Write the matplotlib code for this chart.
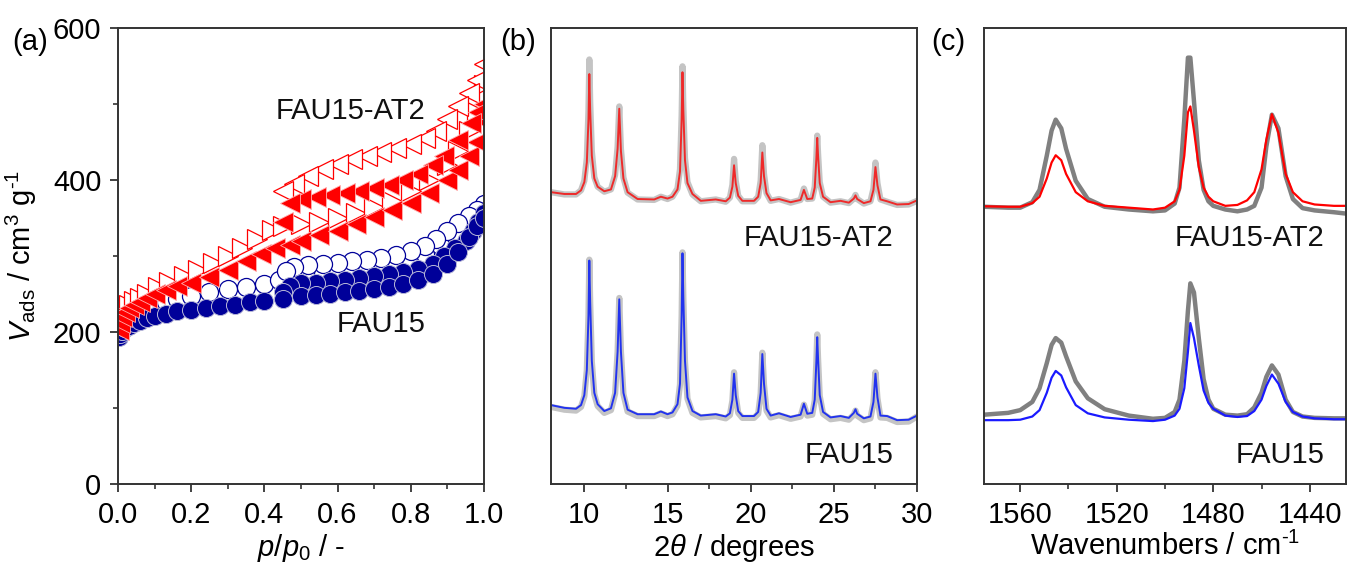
import numpy as np
import matplotlib
matplotlib.use('Agg')
import matplotlib.pyplot as plt
from matplotlib.ticker import MultipleLocator, FixedLocator

plt.rcParams['font.family'] = ['Liberation Sans', 'DejaVu Sans']
plt.rcParams['mathtext.fontset'] = 'custom'
plt.rcParams['mathtext.rm'] = 'Liberation Sans'
plt.rcParams['mathtext.it'] = 'Liberation Sans:italic'

# ---- (a) N2 isotherms, p/p0 and V_ads (cm3/g)
fau_fill_ads_x = [0.002, 0.005, 0.01, 0.02, 0.03, 0.045, 0.06, 0.08, 0.1, 0.13, 0.16, 0.2, 0.24, 0.28, 0.32, 0.36,
                  0.4, 0.45, 0.5, 0.54, 0.58, 0.62, 0.66, 0.7, 0.74, 0.78, 0.82, 0.86, 0.9, 0.93, 0.96, 0.98, 1.0]
fau_fill_ads_y = [193, 197, 201, 205, 208, 212, 215, 218, 221, 224, 227, 229, 231, 234, 236, 239,
                  241, 244, 248, 249, 250, 252, 254, 256, 259, 263, 268, 276, 290, 305, 325, 340, 350]
fau_fill_des_x = [1.0, 0.985, 0.97, 0.95, 0.92, 0.89, 0.86, 0.82, 0.78, 0.74, 0.7, 0.66, 0.62, 0.58, 0.54, 0.5, 0.47, 0.45]
fau_fill_des_y = [357, 345, 333, 320, 310, 300, 290, 283, 279, 276, 274, 271, 269, 267, 265, 264, 260, 252]
fau_open_ads_x = [0.002, 0.008, 0.015, 0.025, 0.04, 0.06, 0.08, 0.1, 0.13, 0.16, 0.2, 0.25, 0.3, 0.35, 0.4, 0.44,
                  0.48, 0.52, 0.56, 0.6, 0.64, 0.68, 0.72, 0.76, 0.8, 0.84, 0.88, 0.92, 0.95, 0.98, 1.0]
fau_open_ads_y = [197, 206, 213, 219, 225, 230, 234, 237, 240, 244, 247, 252, 256, 259, 263, 268,
                  272, 274, 276, 278, 280, 282, 285, 289, 295, 303, 315, 330, 343, 356, 364]
fau_open_des_x = [1.0, 0.98, 0.96, 0.93, 0.9, 0.87, 0.84, 0.8, 0.76, 0.72, 0.68, 0.64, 0.6, 0.56, 0.52, 0.48, 0.46]
fau_open_des_y = [368, 360, 352, 343, 333, 322, 313, 306, 301, 297, 295, 293, 291, 290, 288, 285, 280]

at2_fill_ads_x = [0.002, 0.006, 0.012, 0.02, 0.03, 0.045, 0.06, 0.08, 0.1, 0.13, 0.16, 0.2, 0.25, 0.3, 0.35, 0.39,
                  0.43, 0.47, 0.5, 0.55, 0.6, 0.65, 0.7, 0.75, 0.8, 0.85, 0.9, 0.93, 0.96, 0.98, 1.0]
at2_fill_ads_y = [203, 212, 220, 226, 231, 236, 240, 245, 250, 255, 260, 265, 272, 282, 293, 303,
                  310, 315, 320, 327, 333, 342, 351, 360, 370, 383, 400, 413, 432, 450, 478]
at2_fill_des_x = [1.0, 0.985, 0.965, 0.93, 0.89, 0.86, 0.82, 0.78, 0.74, 0.7, 0.66, 0.62, 0.58, 0.54, 0.5, 0.47, 0.45]
at2_fill_des_y = [500, 490, 475, 453, 432, 420, 408, 400, 393, 389, 386, 383, 380, 378, 375, 370, 345]
at2_open_ads_x = [0.002, 0.006, 0.012, 0.02, 0.03, 0.045, 0.06, 0.08, 0.11, 0.14, 0.18, 0.22, 0.26, 0.3, 0.34, 0.38,
                  0.42, 0.45, 0.5, 0.55, 0.6, 0.65, 0.7, 0.75, 0.8, 0.85, 0.9, 0.93, 0.96, 0.98, 1.0]
at2_open_ads_y = [208, 217, 225, 231, 236, 241, 245, 250, 259, 266, 274, 282, 291, 300, 311, 322,
                  334, 340, 342, 345, 350, 357, 364, 373, 385, 400, 420, 438, 465, 490, 525]
at2_open_des_x = [1.0, 0.98, 0.96, 0.93, 0.9, 0.87, 0.84, 0.8, 0.76, 0.72, 0.68, 0.64, 0.6, 0.56, 0.52, 0.48, 0.45]
at2_open_des_y = [553, 532, 515, 497, 480, 465, 455, 447, 442, 437, 432, 427, 421, 414, 405, 395, 385]

# ---- (b) XRD, 2theta and intensity (a.u., offset)
xrd_2theta = [8.0, 8.8, 9.5, 9.8, 10.0, 10.15, 10.25, 10.3, 10.35, 10.45, 10.6, 10.8, 11.2, 11.6, 11.85, 12.0, 12.1,
              12.2, 12.35, 12.6, 13.2, 14.2, 14.6, 15.0, 15.3, 15.6, 15.75, 15.85, 15.9, 15.95, 16.05, 16.2,
              16.5, 17.0, 17.9, 18.5, 18.75, 18.9, 19.0, 19.1, 19.25, 19.5, 20.2, 20.45, 20.6, 20.7, 20.8,
              20.95, 21.2, 21.7, 22.4, 23.0, 23.2, 23.4, 23.7, 23.85, 23.95, 24.0, 24.05, 24.15, 24.35, 24.8,
              25.4, 25.9, 26.2, 26.3, 26.4, 26.8, 27.2, 27.38, 27.5, 27.62, 27.8, 28.2, 28.8, 29.5, 30.0]
xrd_at2 = [64.0, 63.6, 63.6, 64.4, 66.2, 70.5, 80.0, 89.9, 82.0, 72.0, 67.0, 65.2, 64.2, 64.6, 67.5, 73.5, 82.3,
           73.0, 67.0, 64.0, 62.5, 62.4, 63.0, 62.6, 63.0, 64.6, 68.5, 80.0, 90.3, 82.0, 71.0, 66.0,
           63.6, 62.1, 62.4, 62.0, 62.8, 65.2, 69.9, 66.0, 63.2, 62.1, 62.1, 63.0, 66.0, 72.7, 67.5,
           63.8, 62.2, 62.5, 61.8, 62.3, 64.5, 62.5, 62.6, 65.0, 71.5, 75.9, 72.0, 66.0, 63.0, 61.8,
           62.1, 61.7, 62.6, 63.3, 62.5, 61.6, 62.0, 64.5, 69.5, 65.5, 62.4, 62.0, 61.3, 61.4, 62.2]
xrd_at2_ref = [64.0, 63.5, 63.5, 64.4, 66.5, 71.5, 82.0, 93.1, 84.0, 73.0, 67.3, 65.2, 64.1, 64.6, 67.8, 74.0, 82.8,
               73.5, 67.2, 63.9, 62.4, 62.3, 63.0, 62.5, 63.0, 64.8, 69.0, 81.0, 91.6, 83.0, 71.5, 66.2,
               63.5, 62.0, 62.4, 61.9, 62.8, 65.6, 71.3, 66.5, 63.2, 62.0, 62.0, 63.0, 66.5, 74.3, 68.0,
               63.8, 62.1, 62.5, 61.7, 62.3, 64.8, 62.5, 62.6, 65.2, 72.0, 76.4, 72.5, 66.2, 63.0, 61.7,
               62.0, 61.6, 62.6, 63.4, 62.5, 61.5, 62.0, 64.8, 70.5, 66.0, 62.4, 61.9, 61.2, 61.3, 62.1]
xrd_fau = [17.3, 16.7, 16.5, 17.3, 19.5, 25.0, 37.0, 49.0, 40.0, 27.0, 20.0, 17.5, 16.0, 16.6, 20.0, 29.0, 40.5,
           29.0, 20.0, 16.3, 15.3, 15.3, 15.9, 15.3, 15.7, 17.5, 22.0, 37.0, 50.6, 41.0, 27.0, 19.0,
           16.0, 15.0, 15.3, 14.8, 15.5, 18.5, 24.2, 19.5, 16.0, 14.9, 14.9, 15.8, 20.0, 28.5, 22.0,
           16.5, 15.0, 15.5, 14.7, 15.2, 17.6, 15.4, 15.6, 18.5, 27.0, 32.2, 27.5, 19.5, 15.8, 14.6,
           14.9, 14.5, 15.6, 16.4, 15.4, 14.4, 14.8, 18.0, 24.2, 19.0, 15.0, 14.9, 14.0, 14.1, 15.0]
xrd_fau_ref = [16.9, 16.3, 16.1, 16.9, 19.2, 25.0, 37.0, 49.2, 40.0, 26.8, 19.7, 17.1, 15.6, 16.2, 19.8, 29.0, 40.8,
               29.0, 19.7, 15.9, 14.9, 14.9, 15.5, 14.9, 15.3, 17.2, 21.8, 37.0, 50.8, 41.0, 26.8, 18.7,
               15.6, 14.6, 14.9, 14.4, 15.1, 18.3, 24.5, 19.3, 15.6, 14.5, 14.5, 15.4, 19.8, 28.8, 21.8,
               16.1, 14.6, 15.1, 14.3, 14.8, 17.4, 15.0, 15.2, 18.3, 27.0, 32.8, 27.5, 19.3, 15.4, 14.2,
               14.5, 14.1, 15.2, 16.1, 15.0, 14.0, 14.4, 17.8, 24.5, 18.8, 14.6, 14.5, 13.6, 13.7, 14.8]

# ---- (c) IR of adsorbed pyridine, wavenumber and absorbance (a.u., offset)
ir_wn = [1575, 1565, 1560, 1555, 1552, 1549, 1547, 1545.3, 1543, 1541, 1537, 1532, 1525, 1515, 1505, 1500, 1496,
         1494, 1492, 1490.5, 1489.5, 1488, 1486, 1484, 1482, 1480, 1475, 1470, 1466, 1463, 1460, 1458, 1455.7,
         1453, 1450, 1447, 1443, 1438, 1430, 1425]
ir_at2 = [60.9, 60.8, 60.8, 61.6, 63.0, 67.0, 70.5, 72.1, 71.0, 68.0, 64.0, 62.0, 61.0, 60.6, 60.2, 60.6, 62.0,
          64.5, 72.0, 81.5, 82.8, 77.5, 69.5, 65.0, 63.0, 62.0, 61.0, 61.2, 62.2, 64.0, 69.0, 75.5, 81.1,
          77.0, 68.0, 64.0, 62.0, 61.3, 61.0, 61.0]
ir_at2_ref = [60.8, 60.6, 60.6, 61.8, 64.5, 72.0, 77.5, 79.9, 78.0, 73.5, 66.5, 62.5, 60.8, 60.2, 59.8, 60.0, 61.5,
              65.0, 80.0, 93.5, 93.5, 84.0, 71.0, 64.5, 62.0, 61.0, 60.2, 59.8, 60.2, 61.0, 65.0, 74.0, 81.0,
              78.0, 67.5, 62.5, 60.5, 60.0, 59.6, 59.3]
ir_fau = [14.0, 14.0, 14.1, 14.8, 16.2, 20.0, 23.3, 24.8, 23.8, 21.2, 17.3, 15.5, 14.6, 14.1, 13.8, 14.1, 15.0,
          16.5, 21.0, 29.0, 35.3, 32.0, 26.0, 20.5, 17.8, 16.5, 15.0, 14.7, 14.9, 16.0, 18.5, 21.5, 24.0,
          22.0, 18.0, 15.8, 14.8, 14.4, 14.2, 14.2]
ir_fau_ref = [15.2, 15.6, 16.2, 18.0, 21.0, 26.5, 30.5, 32.0, 31.0, 28.0, 22.5, 18.8, 16.4, 15.0, 14.3, 14.5, 15.8,
              18.5, 27.0, 38.0, 44.0, 42.0, 32.0, 23.0, 18.5, 16.5, 15.2, 15.0, 15.3, 16.8, 20.0, 23.5, 26.0,
              24.0, 18.5, 15.8, 14.8, 14.5, 14.4, 14.4]

navy = '#000099'
red = '#ff0000'
spine_col = '#333333'
fs = 21

fig = plt.figure(figsize=(13.48, 5.74), dpi=100)
ax_a = fig.add_axes([0.0875, 0.1568, 0.2715, 0.7944])
ax_b = fig.add_axes([0.4088, 0.1568, 0.2715, 0.7944])
ax_c = fig.add_axes([0.7300, 0.1568, 0.2685, 0.7944])

for ax in (ax_a, ax_b, ax_c):
    for s in ax.spines.values():
        s.set_color(spine_col)
        s.set_linewidth(1.4)
    ax.tick_params(which='major', direction='out', length=6, width=1.3, color=spine_col,
                   labelsize=fs, pad=6)
    ax.tick_params(which='minor', direction='out', length=3.5, width=1.2, color=spine_col)

# (a)
ms_c = 13
ms_t = 14
ax_a.plot(fau_open_ads_x, fau_open_ads_y, 'o', ms=ms_c, mfc='white', mec=navy, mew=0.9, ls='none')
ax_a.plot(fau_open_des_x, fau_open_des_y, 'o', ms=ms_c, mfc='white', mec=navy, mew=0.9, ls='none')
ax_a.plot(fau_fill_des_x, fau_fill_des_y, 'o', ms=ms_c, mfc=navy, mec='#b8b8d8', mew=0.7, ls='none')
ax_a.plot(fau_fill_ads_x, fau_fill_ads_y, 'o', ms=ms_c, mfc=navy, mec='#b8b8d8', mew=0.7, ls='none')
ax_a.plot(at2_open_ads_x, at2_open_ads_y, '>', ms=ms_t, mfc='white', mec=red, mew=0.9, ls='none')
ax_a.plot(at2_open_des_x, at2_open_des_y, '<', ms=ms_t, mfc='white', mec=red, mew=0.9, ls='none')
ax_a.plot(at2_fill_ads_x, at2_fill_ads_y, '<', ms=ms_t, mfc=red, mec='#ffb0b0', mew=0.6, ls='none')
ax_a.plot(at2_fill_des_x, at2_fill_des_y, '<', ms=ms_t, mfc=red, mec='#ffb0b0', mew=0.6, ls='none')
ax_a.set_xlim(0, 1.0)
ax_a.set_ylim(0, 600)
ax_a.xaxis.set_major_locator(MultipleLocator(0.2))
ax_a.xaxis.set_minor_locator(MultipleLocator(0.1))
ax_a.yaxis.set_major_locator(MultipleLocator(200))
ax_a.yaxis.set_minor_locator(MultipleLocator(100))
ax_a.xaxis.set_major_formatter(matplotlib.ticker.FormatStrFormatter('%.1f'))
ax_a.set_xlabel(r'$\mathit{p}/\mathit{p}_0$ / -', fontsize=fs)
ax_a.set_ylabel(r'$\mathit{V}_{\mathrm{ads}}$ / cm$^3$ g$^{\text{-1}}$', fontsize=fs)
ax_a.xaxis.set_label_coords(0.5, -0.105)
ax_a.yaxis.set_label_coords(-0.215, 0.5)
ax_a.text(0.84, 491, 'FAU15-AT2', fontsize=fs, ha='right', va='center', color='#111111')
ax_a.text(0.84, 211, 'FAU15', fontsize=fs, ha='right', va='center', color='#111111')

# (b)
ax_b.plot(xrd_2theta, xrd_at2_ref, color='#c4c4c4', lw=4.5, solid_joinstyle='round')
ax_b.plot(xrd_2theta, xrd_at2, color='#ee2a2a', lw=1.4)
ax_b.plot(xrd_2theta, xrd_fau_ref, color='#c4c4c4', lw=4.5, solid_joinstyle='round')
ax_b.plot(xrd_2theta, xrd_fau, color='#2233ee', lw=1.4)
ax_b.set_xlim(8, 30)
ax_b.set_ylim(0, 100)
ax_b.xaxis.set_major_locator(MultipleLocator(5))
ax_b.xaxis.set_minor_locator(MultipleLocator(2.5))
ax_b.set_yticks([])
ax_b.set_xlabel(r'2$\mathit{\theta}$ / degrees', fontsize=fs)
ax_b.xaxis.set_label_coords(0.5, -0.105)
ax_b.text(28.6, 53.9, 'FAU15-AT2', fontsize=fs, ha='right', va='center', color='#111111')
ax_b.text(28.6, 6.4, 'FAU15', fontsize=fs, ha='right', va='center', color='#111111')

# (c)
ax_c.plot(ir_wn, ir_at2_ref, color='#808080', lw=3.2, solid_joinstyle='round')
ax_c.plot(ir_wn, ir_at2, color=red, lw=1.6)
ax_c.plot(ir_wn, ir_fau_ref, color='#808080', lw=3.2, solid_joinstyle='round')
ax_c.plot(ir_wn, ir_fau, color='#1a1aff', lw=1.6)
ax_c.set_xlim(1575, 1425)
ax_c.set_ylim(0, 100)
ax_c.xaxis.set_major_locator(FixedLocator([1560, 1520, 1480, 1440]))
ax_c.xaxis.set_minor_locator(FixedLocator([1540, 1500, 1460]))
ax_c.set_yticks([])
ax_c.set_xlabel(r'Wavenumbers / cm$^{\text{-1}}$', fontsize=fs)
ax_c.xaxis.set_label_coords(0.5, -0.105)
ax_c.text(1433.8, 53.9, 'FAU15-AT2', fontsize=fs, ha='right', va='center', color='#111111')
ax_c.text(1433.8, 6.4, 'FAU15', fontsize=fs, ha='right', va='center', color='#111111')

fig.text(0.009, 1 - 42 / 574, '(a)', fontsize=fs, va='center', ha='left')
fig.text(0.371, 1 - 42 / 574, '(b)', fontsize=fs, va='center', ha='left')
fig.text(0.691, 1 - 42 / 574, '(c)', fontsize=fs, va='center', ha='left')

fig.savefig('out.png', dpi=100)
